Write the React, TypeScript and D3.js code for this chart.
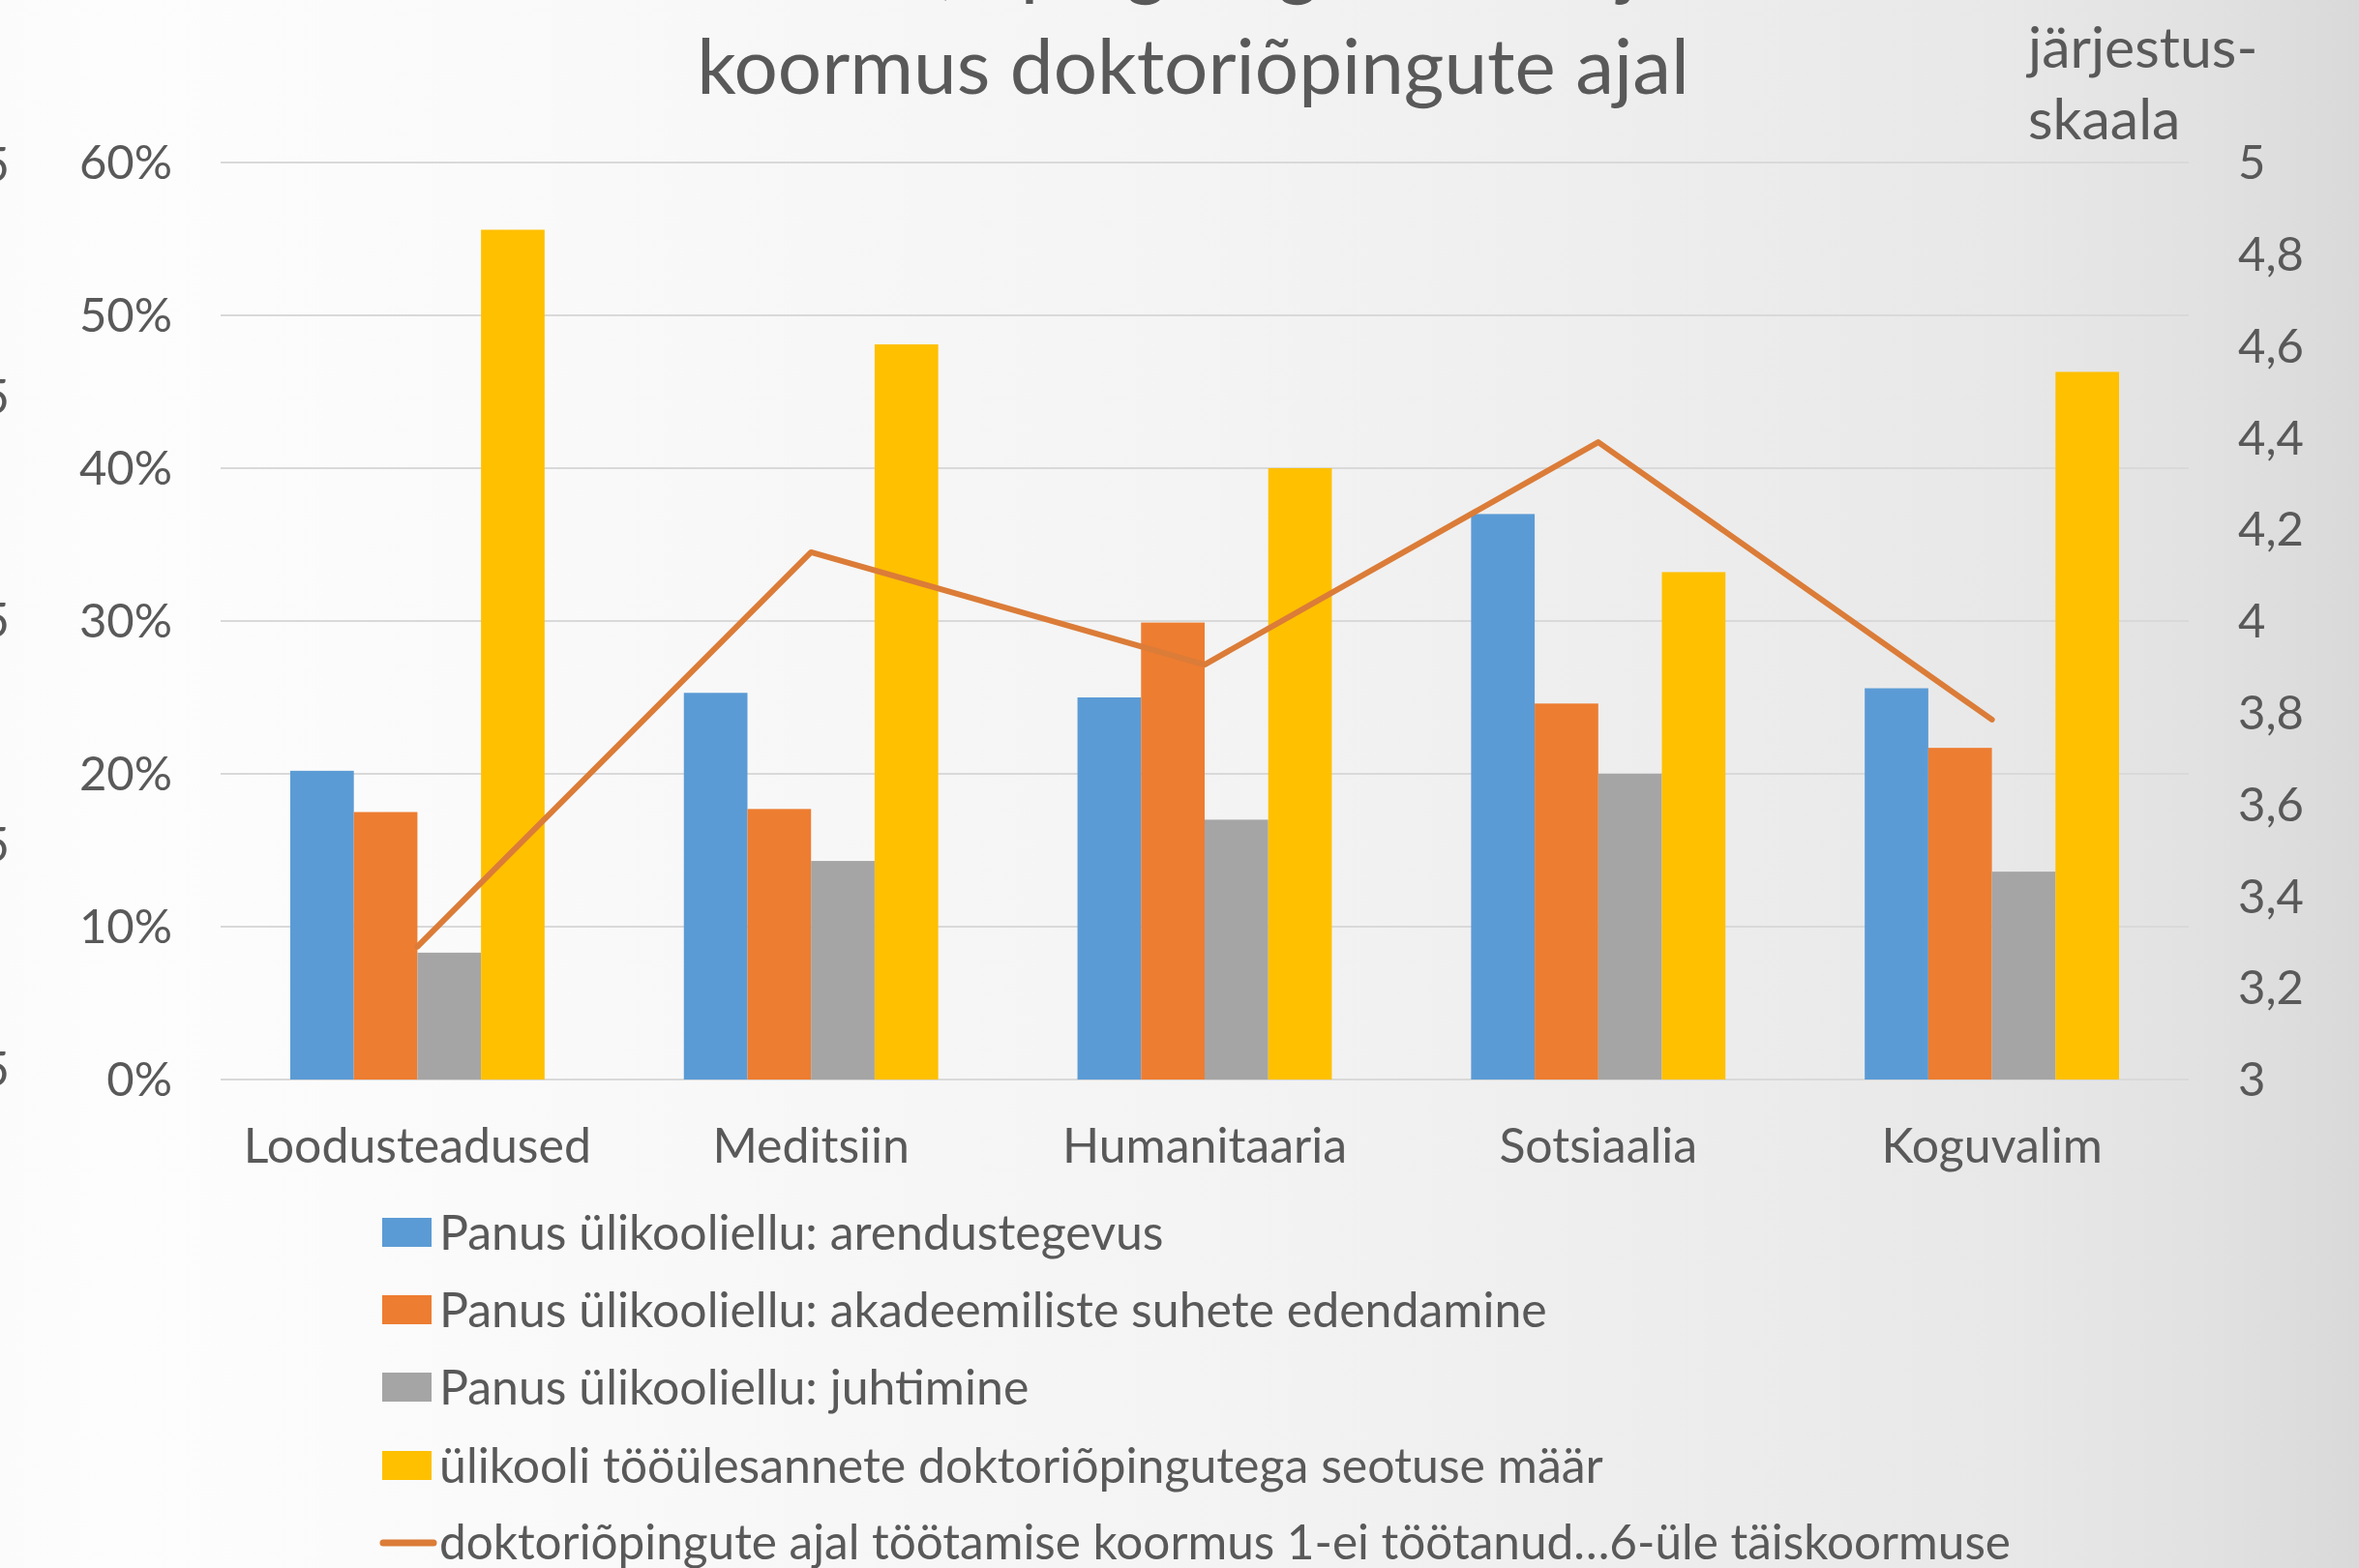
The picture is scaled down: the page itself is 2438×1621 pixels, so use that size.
import React from 'react';
import * as d3 from 'd3';

const categories = ['Loodusteadused', 'Meditsiin', 'Humanitaaria', 'Sotsiaalia', 'Koguvalim'];

const seriesNames = [
  'Panus ülikooliellu: arendustegevus',
  'Panus ülikooliellu: akadeemiliste suhete edendamine',
  'Panus ülikooliellu: juhtimine',
  'ülikooli tööülesannete doktoriõpingutega seotuse määr',
];
const lineName = 'doktoriõpingute ajal töötamise koormus 1-ei töötanud…6-üle täiskoormuse';

// bar values, share (0..1)
const arendus = [0.202, 0.253, 0.250, 0.370, 0.256];
const akadeemilised = [0.175, 0.177, 0.299, 0.246, 0.217];
const juhtimine = [0.083, 0.143, 0.170, 0.200, 0.136];
const seotus = [0.556, 0.481, 0.400, 0.332, 0.463];

// line values on the right scale (3..5)
const koormus = [3.29, 4.15, 3.905, 4.39, 3.785];

const leftTicks = [0, 0.1, 0.2, 0.3, 0.4, 0.5, 0.6];
const rightTicks = [3, 3.2, 3.4, 3.6, 3.8, 4, 4.2, 4.4, 4.6, 4.8, 5];

const colors = ['#5B9BD5', '#ED7D31', '#A5A5A5', '#FFC000'];
const lineColor = '#DB7C38';
const textColor = '#595959';
const font = 'Lato, "Noto Sans", sans-serif';

const W = 2438;
const H = 1621;
const plot = { left: 228, right: 2262, top: 168, bottom: 1116 };

const App = () => {
  const barSeries = [arendus, akadeemilised, juhtimine, seotus];

  const x = d3.scaleBand<string>().domain(categories).range([plot.left, plot.right]).padding(0);
  const groupW = x.bandwidth() * 4 / (4 + 2.19);
  const xs = d3.scaleBand<number>().domain([0, 1, 2, 3]).range([0, groupW]).padding(0);
  const y = d3.scaleLinear().domain([0, 0.6]).range([plot.bottom, plot.top]);
  const y2 = d3.scaleLinear().domain([3, 5]).range([plot.bottom, plot.top]);

  const line = d3.line<number>()
    .x((_, i) => (x(categories[i]) ?? 0) + x.bandwidth() / 2)
    .y(d => y2(d));

  const legendY = [1274, 1354, 1434, 1515, 1595];

  return (
    <div style={{ position: 'absolute', left: 0, top: 0 }}>
      <svg width={W} height={H} style={{ display: 'block', overflow: 'hidden' }}>
        <defs>
          <linearGradient id="bg" x1="0" x2="1" y1="0" y2="0">
            <stop offset="0" stopColor="#fbfbfb" />
            <stop offset="0.05" stopColor="#fdfdfd" />
            <stop offset="0.5" stopColor="#f4f4f4" />
            <stop offset="0.85" stopColor="#e8e8e8" />
            <stop offset="0.94" stopColor="#e1e1e1" />
            <stop offset="1" stopColor="#d9d9d9" />
          </linearGradient>
        </defs>
        <rect x={0} y={0} width={W} height={H} fill="url(#bg)" />

        {/* title, first line mostly cut off */}
        <g fill={textColor} fontFamily={font} textAnchor="middle" fontSize={80}>
          <text x={1233} y={-10}>Panus ülikooliellu, õpingutega seotus ja töötamise</text>
          <text x={1233} y={97}>koormus doktoriõpingute ajal</text>
        </g>

        {/* leftover tick digits from the cut-off left edge */}
        <g fill={textColor} fontFamily={font} fontSize={50} textAnchor="end">
          {[170, 410, 641, 873, 1105].map((v, i) => (
            <text key={i} x={10} y={v} dy="0.35em">5</text>
          ))}
        </g>

        {/* gridlines */}
        <g stroke="#d9d9d9" strokeWidth={2}>
          {leftTicks.map(t => (
            <line key={t} x1={plot.left} x2={plot.right} y1={y(t)} y2={y(t)} />
          ))}
        </g>

        {/* bars */}
        {barSeries.map((vals, s) => (
          <g key={s} fill={colors[s]}>
            {vals.map((v, i) => {
              const x0 = (x(categories[i]) ?? 0) + (x.bandwidth() - groupW) / 2 + (xs(s) ?? 0);
              return <rect key={i} x={x0} y={y(v)} width={xs.bandwidth()} height={plot.bottom - y(v)} />;
            })}
          </g>
        ))}

        {/* line series */}
        <path d={line(koormus) ?? ''} fill="none" stroke={lineColor} strokeWidth={6}
          strokeLinecap="round" strokeLinejoin="round" />

        {/* left axis */}
        <g fill={textColor} fontFamily={font} fontSize={49} textAnchor="end">
          {leftTicks.map(t => (
            <text key={t} x={178} y={y(t)} dy="0.35em">{d3.format('.0%')(t)}</text>
          ))}
        </g>

        {/* right axis */}
        <g fill={textColor} fontFamily={font} fontSize={49} textAnchor="start">
          {rightTicks.map(t => (
            <text key={t} x={2313} y={y2(t)} dy="0.35em">{String(Math.round(t * 10) / 10).replace('.', ',')}</text>
          ))}
        </g>
        <g fill={textColor} fontFamily={font} fontSize={59} textAnchor="start">
          <text x={2096} y={70}>järjestus-</text>
          <text x={2096} y={144}>skaala</text>
        </g>

        {/* category labels */}
        <g fill={textColor} fontFamily={font} fontSize={50} textAnchor="middle">
          {categories.map(c => (
            <text key={c} x={(x(c) ?? 0) + x.bandwidth() / 2} y={1202}>{c}</text>
          ))}
        </g>

        {/* legend */}
        <g fontFamily={font} fontSize={50} fill={textColor}>
          {seriesNames.map((n, i) => (
            <g key={n}>
              <rect x={395} y={legendY[i] - 15} width={51} height={30} fill={colors[i]} />
              <text x={454} y={legendY[i]} dy="0.35em">{n}</text>
            </g>
          ))}
          <line x1={396} x2={448} y1={legendY[4]} y2={legendY[4]} stroke={lineColor}
            strokeWidth={7} strokeLinecap="round" />
          <text x={454} y={legendY[4]} dy="0.35em" fontSize={49.5}>{lineName}</text>
        </g>
      </svg>
    </div>
  );
};

export default App;
